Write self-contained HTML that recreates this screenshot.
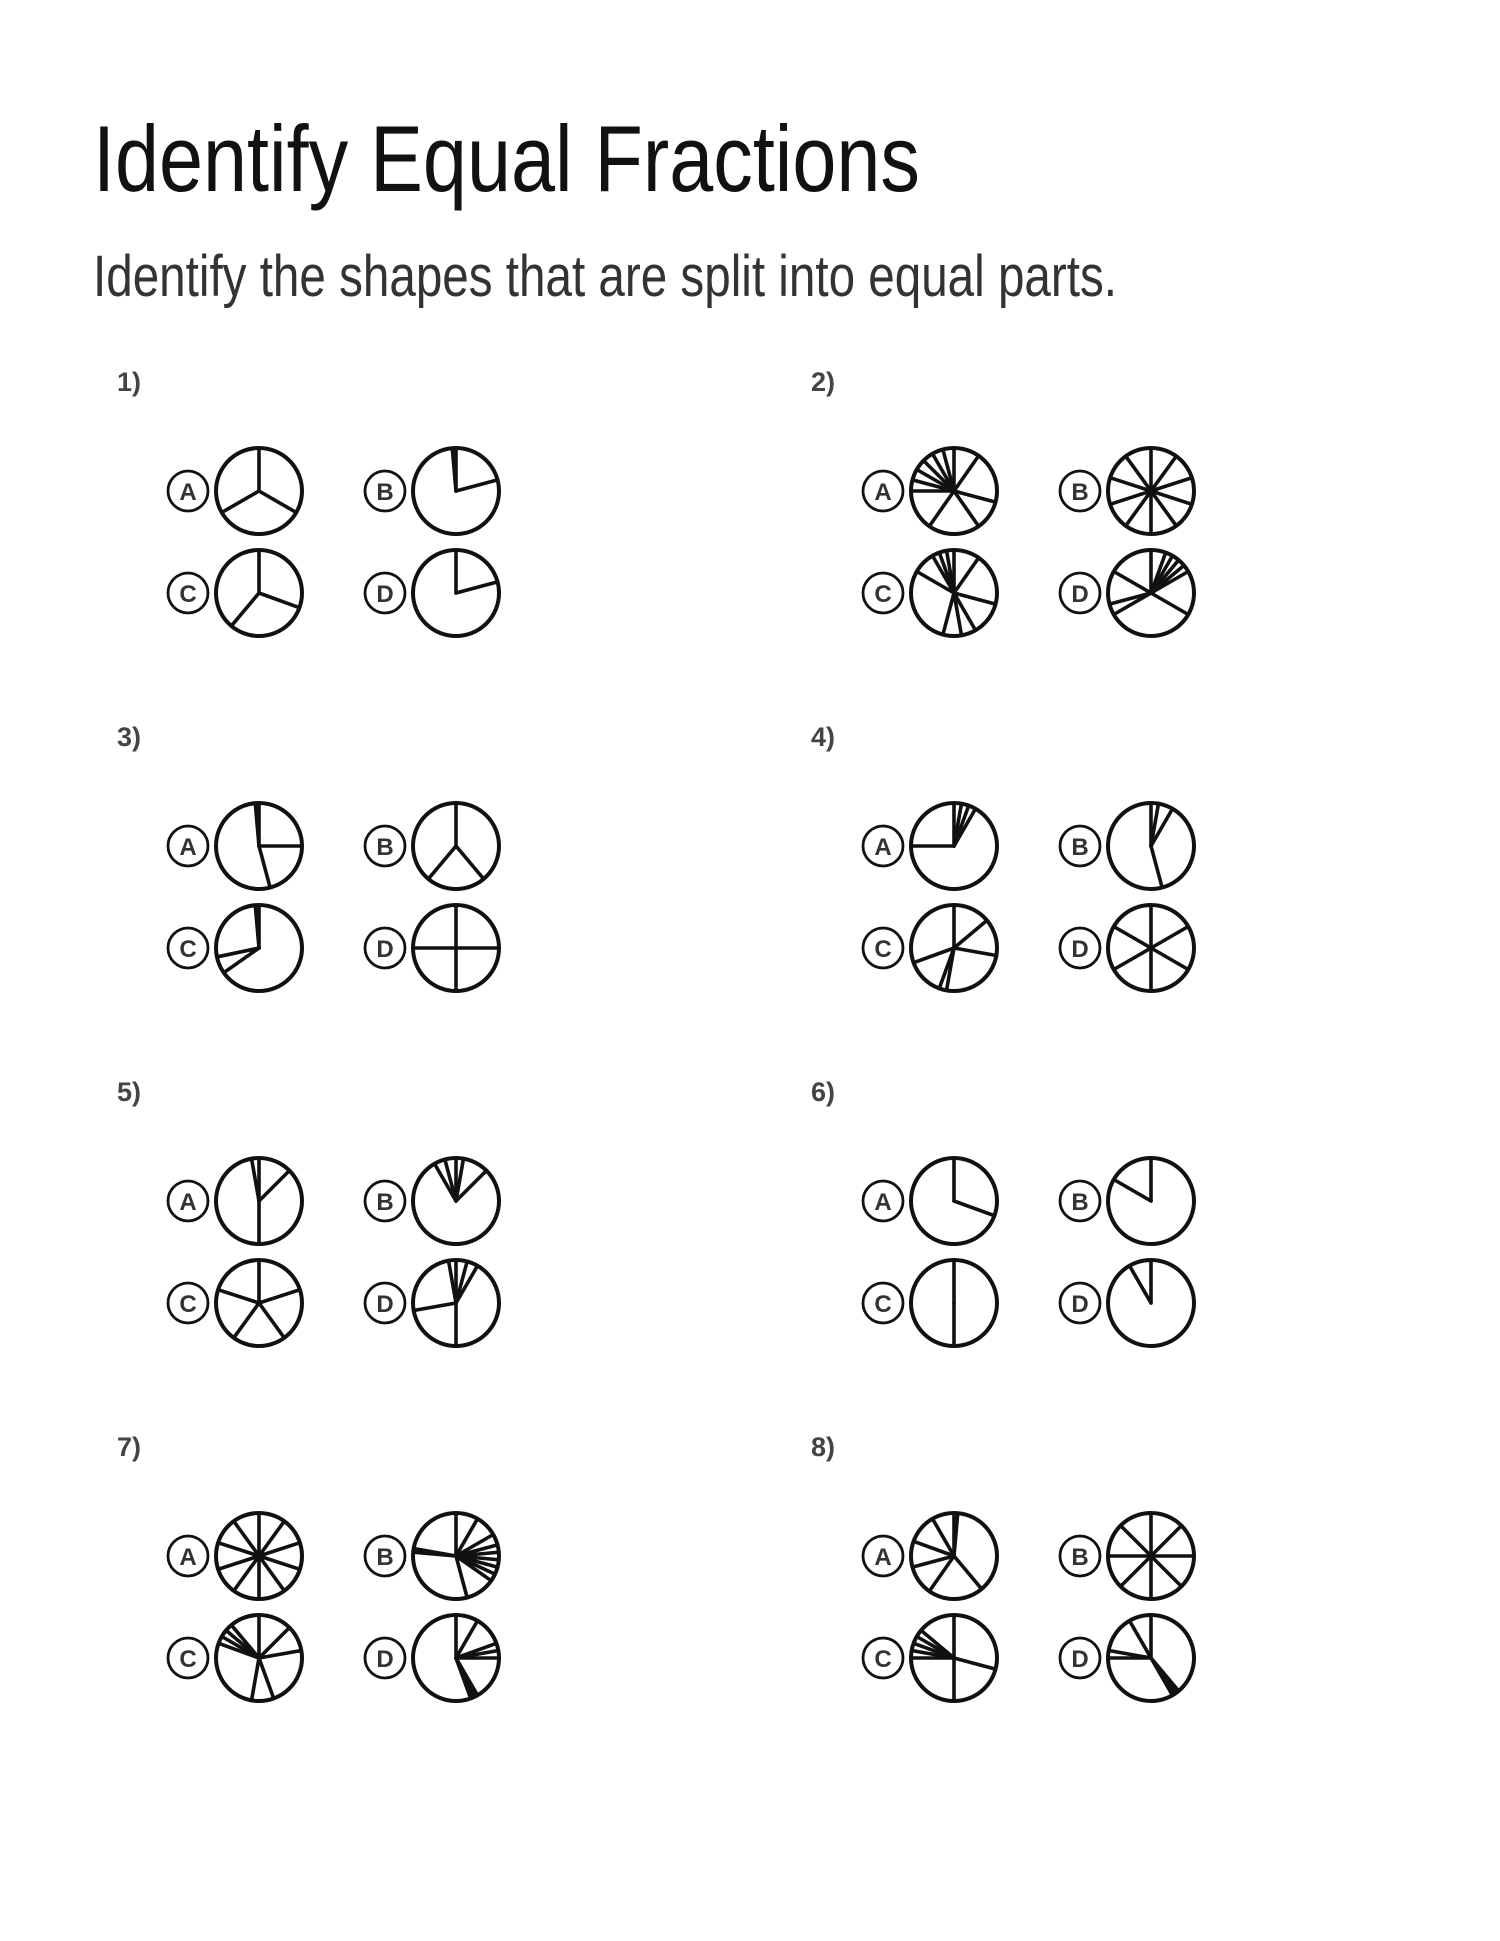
<!DOCTYPE html>
<html><head><meta charset="utf-8"><style>
html,body{margin:0;padding:0;background:#fff;width:1500px;height:1941px;overflow:hidden}
svg{display:block}
</style></head><body>
<svg id="s" width="1500" height="1941" xmlns="http://www.w3.org/2000/svg">
<text x="93" y="191" font-family="Liberation Sans, sans-serif" font-size="94" fill="#111" textLength="827" lengthAdjust="spacingAndGlyphs">Identify Equal Fractions</text>
<text x="93" y="296" font-family="Liberation Sans, sans-serif" font-size="58" fill="#333" textLength="1024" lengthAdjust="spacingAndGlyphs">Identify the shapes that are split into equal parts.</text>
</svg>
<script>
var s=document.getElementById('s'),NS='http://www.w3.org/2000/svg';
function el(t,a,txt){var e=document.createElementNS(NS,t);for(var k in a)e.setAttribute(k,a[k]);if(txt)e.textContent=txt;s.appendChild(e);return e;}
var P=[
 [[0,120,240],[0,355,75],[0,110,220],[0,75]],
 [[0,35,105,145,215,270,285,300,315,330,345],[0,36,72,108,144,180,216,252,288,324],[0,35,105,150,170,195,300,330,340,350],[0,20,30,40,50,60,120,240,255,300]],
 [[0,90,165,355],[0,140,220],[0,355,235,258],[0,90,180,270]],
 [[0,10,20,30,270],[0,10,30,165],[0,50,100,190,200,250],[0,60,120,180,240,300]],
 [[0,350,45,180],[0,330,345,10,45],[0,72,144,216,288],[0,350,15,30,180,260]],
 [[0,110],[0,300],[0,180],[0,330]],
 [[0,36,72,108,144,180,216,252,288,324],[0,30,60,75,85,95,105,115,125,165,275,280],[0,45,80,160,190,290,300,310,320],[0,30,70,80,90,150,155,160]],
 [[0,5,140,215,255,290,330],[0,45,90,135,180,225,270,315],[0,105,180,270,280,290,300,310],[0,330,270,280,140,145,150]]
];
var L=['A','B','C','D'];
for(var p=0;p<8;p++){
 var col=p%2,row=Math.floor(p/2);
 var bx=col?811:117, by=391+row*355;
 el('text',{x:bx,y:by,'font-family':'Liberation Sans, sans-serif','font-size':27,'font-weight':'bold',fill:'#444'},(p+1)+')');
 for(var q=0;q<4;q++){
  var cx=(col?954:259)+(q%2)*197, cy=491+row*355+Math.floor(q/2)*102;
  var lx=cx-71;
  el('circle',{cx:lx,cy:cy,r:20,fill:'none',stroke:'#111','stroke-width':2.8});
  el('text',{x:lx,y:cy+9,'text-anchor':'middle','font-family':'Liberation Sans, sans-serif','font-size':24,'font-weight':'bold',fill:'#333'},L[q]);
  var r=43;
  P[p][q].forEach(function(a){var t=a*Math.PI/180;
   el('line',{x1:cx,y1:cy,x2:cx+r*Math.sin(t),y2:cy-r*Math.cos(t),stroke:'#111','stroke-width':3.6,'stroke-linecap':'round'});});
  el('circle',{cx:cx,cy:cy,r:r,fill:'none',stroke:'#111','stroke-width':4});
 }
}
</script>
</body></html>
